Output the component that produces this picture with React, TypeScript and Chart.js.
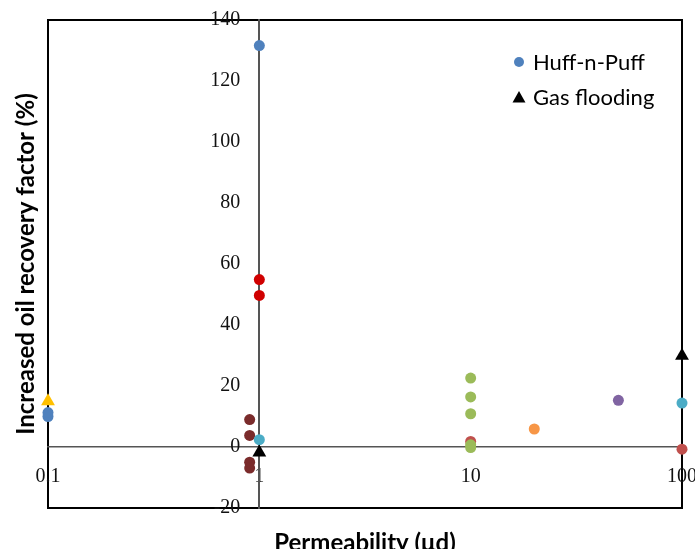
import React, { useEffect, useRef } from "react";
import { Chart, registerables } from "chart.js";

Chart.register(...registerables);

// ---- axis ticks ----
const xTickValues = [0.1, 1, 10, 100];
const yMin = -20;
const yMax = 140;
const yStep = 20;

// ---- legend labels ----
const huffLabel = "Huff-n-Puff";
const gasLabel = "Gas flooding";

// ---- Huff-n-Puff groups (permeability µd, increased recovery %) ----
const blueX = [0.1, 0.1, 1];
const blueY = [10, 11.3, 131.6];
const brightRedX = [1, 1];
const brightRedY = [54.9, 49.7];
const darkRedX = [0.9, 0.9, 0.9, 0.9];
const darkRedY = [9.0, 3.8, -5.0, -6.9];
const cyanX = [1, 100];
const cyanY = [2.4, 14.4];
const redX = [10, 100];
const redY = [1.8, -0.7];
const greenX = [10, 10, 10, 10, 10];
const greenY = [22.6, 16.4, 10.9, 0.7, -0.2];
const orangeX = [20];
const orangeY = [5.9];
const purpleX = [50];
const purpleY = [15.3];

// ---- Gas flooding groups ----
const gasBlackX = [1, 100];
const gasBlackY = [-1.8, 29.9];
const gasYellowX = [0.1];
const gasYellowY = [15];

const toPoints = (xs: number[], ys: number[]) => xs.map((x, i) => ({ x, y: ys[i] }));

const framePlugin = {
  id: "frame",
  beforeDraw(chart: any) {
    const { ctx, chartArea } = chart;
    ctx.save();
    ctx.strokeStyle = "#000";
    ctx.lineWidth = 2;
    ctx.strokeRect(chartArea.left, chartArea.top, chartArea.right - chartArea.left, chartArea.bottom - chartArea.top);
    ctx.restore();
  },
};

// y-axis sits at x = 1; keep its labels a little left of the axis line
const yLabelGapPlugin = {
  id: "yLabelGap",
  beforeDraw(chart: any) {
    const s = chart.scales.y;
    if (!s) return;
    const items = s.getLabelItems();
    items.forEach((it: any) => {
      if (!it._gapApplied && it.options && it.options.translation) {
        it.options.translation[0] -= 19;
        it._gapApplied = true;
      }
    });
  },
};

const insideLegendPlugin = {
  id: "insideLegend",
  afterDraw(chart: any) {
    const { ctx, chartArea } = chart;
    const entries = [
      { label: huffLabel, style: "circle", color: "#4F81BD" },
      { label: gasLabel, style: "triangle", color: "#000000" },
    ];
    ctx.save();
    ctx.font = "22px Lato";
    ctx.textBaseline = "middle";
    ctx.textAlign = "left";
    const mx = chartArea.right - 163;
    entries.forEach((e, i) => {
      const my = chartArea.top + 42 + i * 35;
      ctx.fillStyle = e.color;
      ctx.beginPath();
      if (e.style === "circle") {
        ctx.arc(mx, my, 5, 0, Math.PI * 2);
      } else {
        ctx.moveTo(mx, my - 6);
        ctx.lineTo(mx + 6.5, my + 5.5);
        ctx.lineTo(mx - 6.5, my + 5.5);
        ctx.closePath();
      }
      ctx.fill();
      ctx.fillStyle = "#000";
      ctx.fillText(e.label, mx + 14, my + 1);
    });
    ctx.restore();
  },
};

export default function App() {
  const ref = useRef<HTMLCanvasElement>(null);
  useEffect(() => {
    document.body.style.margin = "0";
    if (!ref.current) return;
    const mk = (label: string, xs: number[], ys: number[], color: string, order: number, style = "circle", radius = 5.5) => ({
      label,
      data: toPoints(xs, ys),
      backgroundColor: color,
      borderColor: color,
      borderWidth: 0,
      pointStyle: style,
      pointRadius: radius,
      pointHoverRadius: radius,
      showLine: false,
      clip: false,
      order,
    });
    const serif = { family: "'Liberation Serif', 'DejaVu Serif', serif", size: 20 };
    const titleFont = { family: "Lato", size: 24, weight: "bold", lineHeight: 1 };
    const chart = new Chart(ref.current, {
      type: "scatter",
      data: {
        datasets: [
          mk(huffLabel, blueX, blueY, "#4F81BD", 9),
          mk(huffLabel, brightRedX, brightRedY, "#D00000", 8),
          mk(huffLabel, darkRedX, darkRedY, "#7A2B2B", 7),
          mk(huffLabel, redX, redY, "#C0504D", 6),
          mk(huffLabel, greenX, greenY, "#9BBB59", 5),
          mk(huffLabel, orangeX, orangeY, "#F79646", 4),
          mk(huffLabel, purpleX, purpleY, "#8064A2", 3),
          mk(huffLabel, cyanX, cyanY, "#4BACC6", 2),
          mk(gasLabel, gasYellowX, gasYellowY, "#FFC000", 1, "triangle", 8),
          mk(gasLabel, gasBlackX, gasBlackY, "#000000", 0, "triangle", 8),
        ] as any,
      },
      options: {
        responsive: false,
        animation: false,
        layout: { padding: { top: 20, right: 13, left: 0, bottom: 0 } },
        scales: {
          x: {
            type: "logarithmic",
            min: 0.1,
            max: 100,
            position: { y: 0 } as any,
            grid: { display: false, drawTicks: false },
            border: { display: true, color: "#555555", width: 1.5 },
            afterBuildTicks: (s: any) => {
              s.ticks = xTickValues.map((v) => ({ value: v }));
            },
            afterFit: (s: any) => {
              s.paddingLeft = 0;
              s.paddingRight = 0;
            },
            ticks: {
              callback: (v: any) => String(v),
              font: serif,
              color: "#111",
              padding: 18,
              maxRotation: 0,
              autoSkip: false,
            },
          },
          y: {
            type: "linear",
            min: yMin,
            max: yMax,
            position: { x: 1 } as any,
            grid: { display: false, drawTicks: false },
            border: { display: true, color: "#555555", width: 2 },
            afterFit: (s: any) => {
              s.paddingTop = 0;
              s.paddingBottom = 0;
            },
            ticks: {
              stepSize: yStep,
              font: serif,
              color: "#111",
              padding: 18,
            },
          },
        },
        plugins: {
          legend: { display: false },
          tooltip: { enabled: false },
          title: {
            display: true,
            position: "left",
            fullSize: false,
            text: "Increased oil recovery factor (%)",
            color: "#000",
            font: titleFont,
            padding: { top: 14, bottom: 10 },
          },
          subtitle: {
            display: true,
            position: "bottom",
            fullSize: false,
            text: "Permeability (μd)",
            color: "#000",
            font: titleFont,
            padding: { top: 23, bottom: -6 },
          },
        },
      } as any,
      plugins: [framePlugin, yLabelGapPlugin, insideLegendPlugin],
    });
    return () => chart.destroy();
  }, []);
  return (
    <div style={{ width: 695, height: 549 }}>
      <canvas ref={ref} width={695} height={549} style={{ display: "block", width: 695, height: 549 }} />
    </div>
  );
}
